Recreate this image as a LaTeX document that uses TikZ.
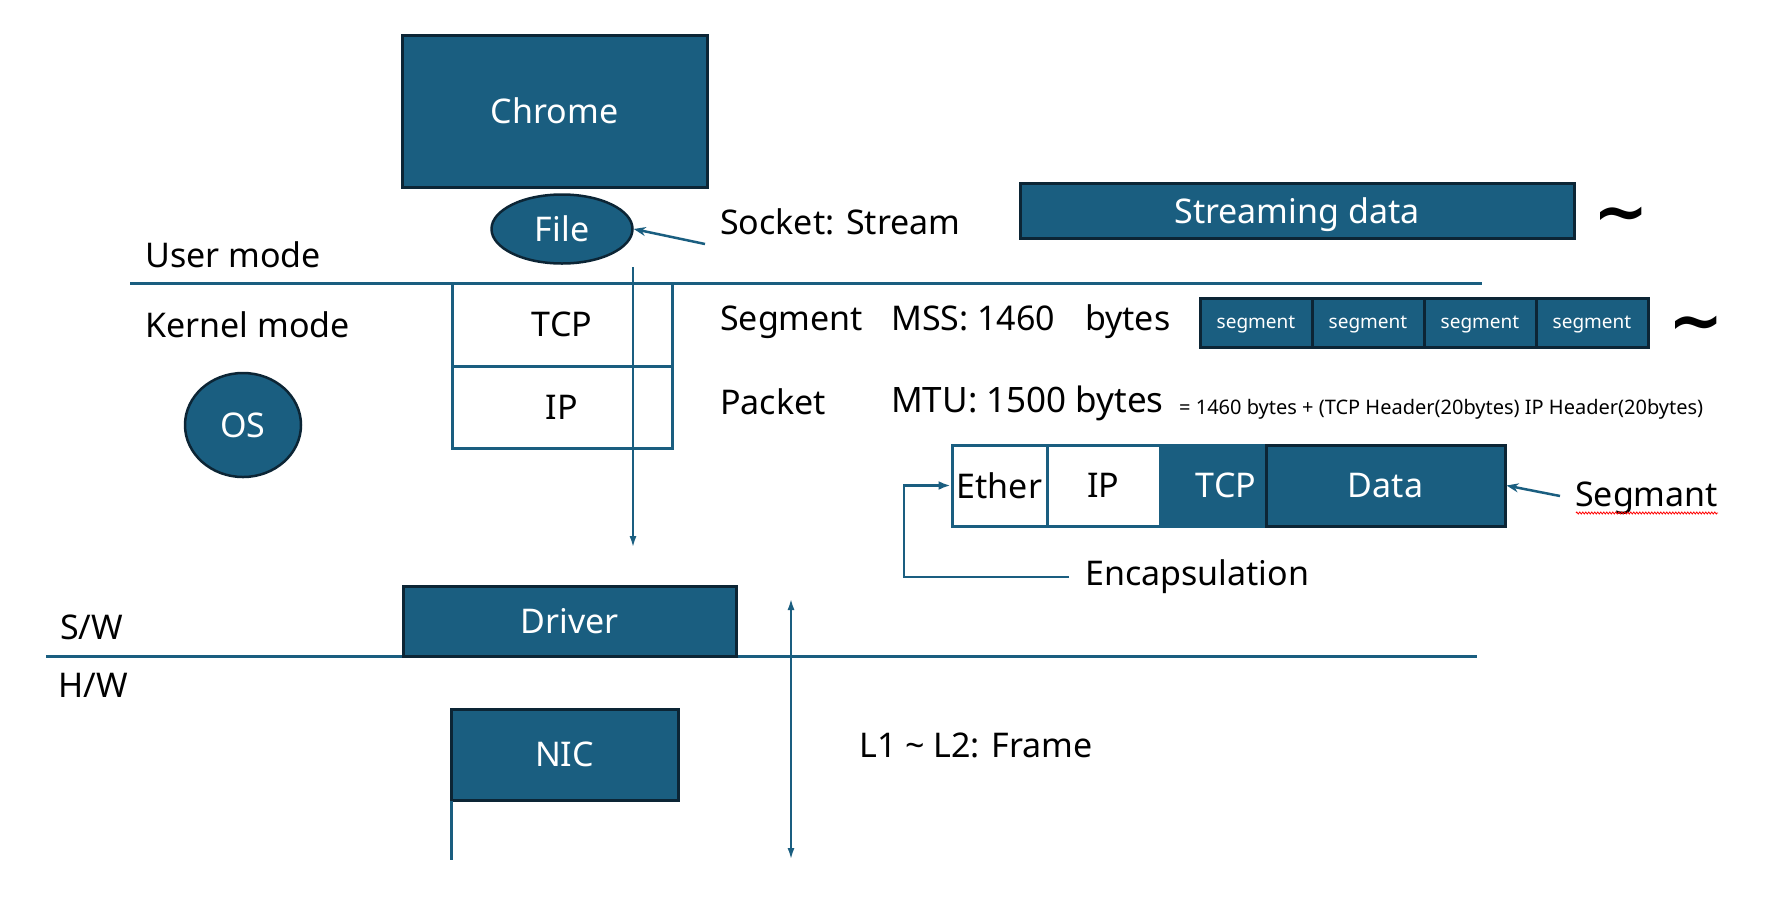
\documentclass[tikz,border=0pt]{standalone}
\usepackage{fontspec}
\setmainfont{Noto Sans}
\newfontfamily\tildefont{DejaVu Sans}
\usetikzlibrary{shapes.geometric,arrows.meta,decorations.pathmorphing}
\definecolor{teal1}{HTML}{1A5E80}
\definecolor{navy1}{HTML}{0C2535}
\begin{document}
\begin{tikzpicture}[x=1pt,y=-1pt,
  big/.style={font=\fontsize{34}{40}\selectfont},
  box/.style={draw=navy1,fill=teal1,line width=3pt,text=white,inner sep=0pt,big},
  oval/.style={ellipse,draw=navy1,fill=teal1,line width=2.5pt,text=white,inner sep=0pt,big},
  wbox/.style={draw=teal1,fill=white,line width=3pt,text=black,inner sep=0pt,big},
  lbl/.style={anchor=west,inner sep=0pt,big},
  seg/.style={box,minimum width=112pt,minimum height=49pt,text depth=0pt,font=\fontsize{19}{22}\selectfont},
  tld/.style={inner sep=0pt,font=\tildefont\bfseries\fontsize{66}{66}\selectfont},
  ln/.style={draw=teal1,line width=3pt},
  arr/.style={draw=teal1,line width=2.5pt,-{Stealth[length=12pt,width=9pt]}},
  varr/.style={draw=teal1,line width=2.5pt,-{Latex[length=12pt,width=7pt]}},
  dvarr/.style={draw=teal1,line width=2.5pt,{Latex[length=12pt,width=7pt]}-{Latex[length=12pt,width=7pt]}}]
\useasboundingbox[fill=white] (0,0) rectangle (1766,922);

% separator lines
\coordinate (um1) at (130,283);
\coordinate (um2) at (1482,283);
\draw[ln] (um1) -- (um2);
\coordinate (sw1) at (46,656);
\coordinate (sw2) at (1477,656);
\draw[ln] (sw1) -- (sw2);

% left labels
\node[lbl] (user) at (145,255) {User mode};
\node[lbl] (kern) at (145,325) {Kernel mode};
\node[lbl] (sw) at (60,627) {S/W};
\node[lbl] (hw) at (58,685) {H/W};

% user space
\node[box,minimum width=305pt,minimum height=152pt] (chrome) at (554.5,111) {Chrome};
\node[oval,minimum width=141pt,minimum height=69pt] (file) at (562,229) {File};
\node[oval,minimum width=116pt,minimum height=104pt] (os) at (243,425) {OS};

% protocol stack
\node[wbox,fill=none,minimum width=220pt,minimum height=83pt] (tcp) at (562,324.5) {TCP};
\node[wbox,fill=none,minimum width=220pt,minimum height=82pt] (ip) at (562,407) {IP};

\coordinate (vt) at (633,267);
\coordinate (vb) at (633,548);
\draw[varr] (vt) -- (vb);

% socket
\node[lbl] (socket) at (720,222) {Socket: Stream};
\coordinate (sockarr) at (705,244);
\draw[arr] (sockarr) -- (file.east);

\node[box,text depth=0pt,minimum width=554pt,minimum height=55pt] (stream) at (1297,210.5) {Streaming data};
\node[tld] (t1) at (1621,221) {\textasciitilde};

\node[lbl] (segl) at (720,322) {Segment};
\node[lbl] (mss) at (891,322) {MSS: 1460\hspace{30pt}bytes};
\node[seg] (s1) at (1256,322.5) {segment};
\node[seg] (s2) at (1368,322.5) {segment};
\node[seg] (s3) at (1480,322.5) {segment};
\node[seg] (s4) at (1592,322.5) {segment};
\node[tld] (t2) at (1696,330) {\textasciitilde};

\node[lbl] (pkt) at (720,402) {Packet};
\node[lbl,font=\fontsize{35}{40}\selectfont] (mtu) at (891,403) {MTU: 1500 bytes};
\node[lbl,font=\fontsize{20}{24}\selectfont] (eq) at (1179,409) {= 1460 bytes + (TCP Header(20bytes) IP Header(20bytes)};

% frame
\node[wbox,minimum width=95pt,minimum height=81pt] (ether) at (999.5,485.5) {Ether};
\node[wbox,minimum width=113pt,minimum height=81pt] (ip2) at (1103.5,485.5) {IP};
\node[box,draw=teal1,minimum width=106pt,minimum height=81pt] (tcp2) at (1213,485.5) {\hspace*{26pt}TCP};
\node[box,minimum width=239pt,minimum height=81pt] (data) at (1385.5,485.5) {Data};

\node[lbl] (segm) at (1575,498) {Segmant};
\coordinate (segarr) at (1560,496);
\draw[arr] (segarr) -- (data.east);
\coordinate (wv1) at (1576,513);
\coordinate (wv2) at (1718,513);
\draw[red,line width=0.8pt,decorate,decoration={zigzag,segment length=3pt,amplitude=1pt}] (wv1) -- (wv2);

\node[lbl] (enc) at (1085,577) {Encapsulation};
\coordinate (enc1) at (1069,577);
\draw[draw=teal1,line width=2.5pt,-{Latex[length=12pt,width=9pt]}] (enc1) -- ++(-165,0) |- (ether.west);

% driver / nic
\node[box,minimum width=333pt,minimum height=70pt] (driver) at (569.5,621) {Driver};
\node[box,minimum width=227pt,minimum height=91pt] (nic) at (564.5,754.5) {NIC};
\coordinate (nict) at (451,801);
\coordinate (nicb) at (451,860);
\draw[ln] (nict) -- (nicb);

\coordinate (da) at (791,598);
\coordinate (db) at (791,860);
\draw[dvarr] (da) -- (db);

\node[lbl] (frame) at (859,745) {L1 \textasciitilde{} L2: Frame};
\end{tikzpicture}
\end{document}
